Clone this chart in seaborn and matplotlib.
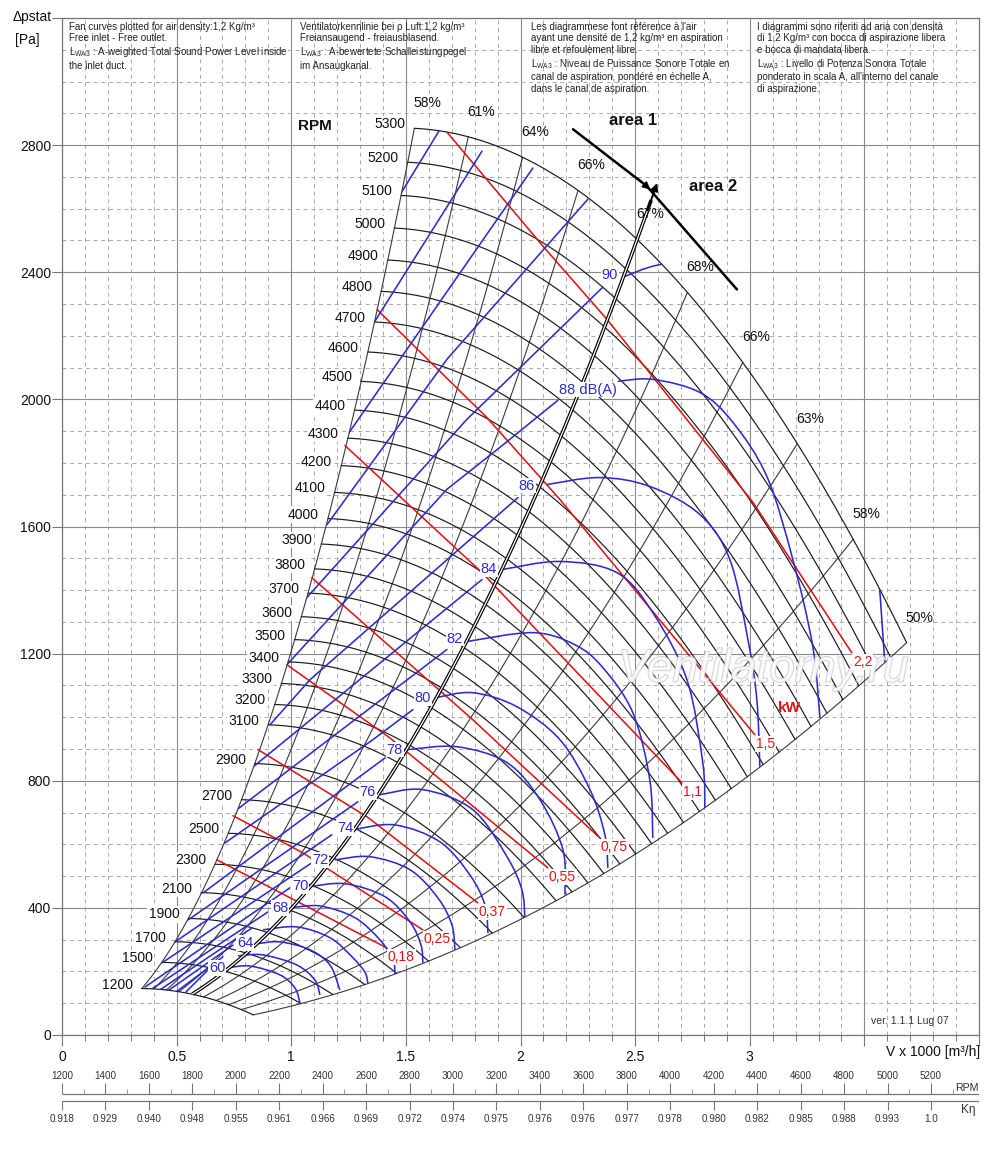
import numpy as np
import pandas as pd
import matplotlib
matplotlib.use("Agg")
import matplotlib.pyplot as plt
import seaborn as sns
from matplotlib.path import Path
from matplotlib.patches import PathPatch, Polygon
from matplotlib import font_manager
import matplotlib.patheffects as pe

# ------------------------------------------------------------------ data
RPM_CURVES = [1200, 1500, 1700, 1900, 2100, 2300, 2500, 2700, 2900,
              3100, 3200, 3300, 3400, 3500, 3600, 3700, 3800, 3900, 4000,
              4100, 4200, 4300, 4400, 4500, 4600, 4700, 4800, 4900, 5000,
              5100, 5200, 5300]
RPM_MAX = 5300
# 5300 rpm curve, read where the efficiency lines meet it
TOP_V = [1.539, 1.771, 2.006, 2.250, 2.512, 2.730, 2.970, 3.205, 3.450, 3.685]
TOP_P = [2860, 2822, 2753, 2655, 2510, 2340, 2117, 1858, 1559, 1235]
EFF_LABELS = ["58%", "61%", "64%", "66%", "67%", "68%", "66%", "63%", "58%", "50%"]
AREA_INDEX = 4          # the 67 % line is the area 1 / area 2 border
AREA_V_TOP = 2.60

KW_LABELS = ["0,18", "0,25", "0,37", "0,55", "0,75", "1,1", "1,5", "2,2"]
KW_V = [[0.676, 1.417],
        [0.746, 1.051, 1.574],
        [0.855, 1.330, 1.814],
        [0.981, 1.430, 2.119],
        [1.090, 1.792, 2.346],
        [1.234, 1.832, 2.704],
        [1.374, 1.853, 2.172, 3.022],
        [1.679, 2.098, 2.377, 3.014, 3.445]]
KW_P = [[551, 274],
        [690, 573, 331],
        [898, 687, 416],
        [1165, 935, 526],
        [1439, 992, 620],
        [1855, 1455, 794],
        [2283, 1943, 1685, 945],
        [2841, 2482, 2252, 1676, 1203]]

# sound level lines, rising part (area 1)
RISE_LEVELS = [98, 96, 94, 92, 90, 88, 86, 84, 82, 80, 78, 76, 74, 72, 70, 68, 66, 64, 62, 60]
RISE_V = [[1.474, 1.644], [1.365, 1.832], [1.247, 2.054], [1.156, 1.679, 2.294],
          [1.060, 1.766, 2.359], [0.981, 1.679, 1.910, 2.163], [0.907, 1.082, 1.989],
          [0.829, 1.832], [0.763, 1.679], [0.698, 1.356, 1.531], [0.615, 1.409],
          [0.550, 1.291], [0.493, 1.177], [0.436, 1.090], [0.362, 0.994],
          [0.392, 0.898], [0.427, 0.829], [0.462, 0.746], [0.497, 0.702], [0.536, 0.637]]
RISE_P = [[2643, 2844], [2246, 2781], [1890, 2728], [1606, 2126, 2630],
          [1370, 1937, 2353], [1165, 1717, 1849, 1997], [976, 1118, 1691],
          [841, 1433], [709, 1213], [598, 929, 1024], [447, 872],
          [362, 734], [293, 630], [227, 542], [151, 463],
          [145, 387], [142, 337], [139, 283], [135, 246], [132, 205]]

# sound level lines, dome part (area 2)
DOME_LEVELS = [60, 62, 64, 66, 68, 70, 72, 74, 76, 78, 80, 82, 84, 86, 88, 90]
DOME_V = [[0.720, 0.820, 0.951, 1.016, 1.038],
          [0.768, 0.877, 1.025, 1.103, 1.125],
          [0.850, 0.951, 1.082, 1.169, 1.212],
          [0.877, 1.025, 1.169, 1.265, 1.321, 1.334],
          [0.994, 1.125, 1.278, 1.387, 1.444, 1.452],
          [1.073, 1.234, 1.409, 1.518, 1.566, 1.574],
          [1.191, 1.343, 1.518, 1.640, 1.701, 1.714],
          [1.269, 1.452, 1.648, 1.779, 1.845, 1.858],
          [1.387, 1.574, 1.792, 1.941, 2.006, 2.019],
          [1.509, 1.723, 1.941, 2.085, 2.185, 2.194],
          [1.627, 1.792, 1.984, 2.172, 2.303, 2.368, 2.381],
          [1.766, 2.054, 2.237, 2.359, 2.490, 2.564, 2.577],
          [1.923, 2.172, 2.420, 2.577, 2.726, 2.795, 2.804],
          [2.115, 2.346, 2.564, 2.782, 2.913, 2.992, 3.031, 3.044],
          [2.425, 2.577, 2.782, 2.926, 3.075, 3.188, 3.275, 3.306],
          [2.455, 2.595, 2.782, 3.044, 3.262, 3.437, 3.546, 3.589]]
DOME_P = [[211, 217, 189, 148, 101],
          [249, 252, 220, 173, 126],
          [287, 293, 268, 220, 142],
          [331, 340, 306, 246, 198, 164],
          [400, 406, 369, 299, 236, 189],
          [466, 476, 435, 356, 283, 227],
          [551, 561, 520, 431, 346, 268],
          [646, 661, 608, 504, 409, 321],
          [756, 772, 709, 561, 457, 369],
          [898, 907, 857, 740, 583, 441],
          [1061, 1077, 1033, 929, 772, 630, 526],
          [1238, 1266, 1228, 1156, 1014, 803, 620],
          [1465, 1490, 1455, 1329, 1118, 857, 715],
          [1732, 1754, 1726, 1638, 1496, 1244, 1055, 844],
          [2057, 2063, 2022, 1928, 1757, 1496, 1222, 998],
          [2387, 2422, 2435, 2362, 2157, 1843, 1528, 1172]]

DB_LABELS = ["60", "64", "68", "70", "72", "74", "76", "78", "80", "82", "84", "86", "88 dB(A)", "90"]
DB_LABEL_V = [0.676, 0.798, 0.951, 1.038, 1.125, 1.234, 1.334, 1.452, 1.574, 1.714, 1.862, 2.028, 2.294, 2.390]
DB_LABEL_P = [211, 290, 400, 469, 551, 652, 765, 898, 1061, 1247, 1465, 1729, 2031, 2390]

AREA_SEP_V = [2.229, 2.551, 2.944]
AREA_SEP_P = [2850, 2671, 2346]

SCALE_RPM = [1200, 1400, 1600, 1800, 2000, 2200, 2400, 2600, 2800, 3000, 3200,
             3400, 3600, 3800, 4000, 4200, 4400, 4600, 4800, 5000, 5200]
SCALE_RPM_MINOR = [1300, 1500, 1700, 1900, 2100, 2300, 2500, 2700, 2900, 3100, 3300,
                   3500, 3700, 3900, 4100, 4300, 4500, 4700, 4900, 5100, 5300]
K_ETA = ["0.918", "0.929", "0.940", "0.948", "0.955", "0.961", "0.966", "0.969",
         "0.972", "0.974", "0.975", "0.976", "0.976", "0.977", "0.978", "0.980",
         "0.982", "0.985", "0.988", "0.993", "1.0"]
SCALE_RPM_END = 5421

X_TICKS = [0, 0.5, 1.0, 1.5, 2.0, 2.5, 3.0, 3.5, 4.0]
X_TICK_LABELS = ["0", "0.5", "1", "1.5", "2", "2.5", "3", "", ""]
Y_TICKS = [0, 400, 800, 1200, 1600, 2000, 2400, 2800, 3200]
Y_TICK_LABELS = ["0", "400", "800", "1200", "1600", "2000", "2400", "2800", ""]

HEADERS = [
    "Fan curves plotted for air density:1,2 Kg/m³\nFree inlet - Free outlet.\n"
    "L$_{WA3}$ : A-weighted Total Sound Power Level inside\nthe inlet duct.",
    "Ventilatorkennlinie bei ρ Luft:1,2 kg/m³\nFreiansaugend - freiausblasend.\n"
    "L$_{WA3}$ : A-bewertete Schalleistungpegel\nim Ansaugkanal.",
    "Les diagrammese font référence à l'air\nayant une densité de 1,2 kg/m³ en aspiration\n"
    "libre et refoulement libre.\nL$_{WA3}$ : Niveau de Puissance Sonore Totale en\n"
    "canal de aspiration, pondéré en échelle A,\ndans le canal de aspiration.",
    "I diagrammi sono riferiti ad aria con densità\ndi 1,2 Kg/m³ con bocca di aspirazione libera\n"
    "e bocca di mandata libera.\nL$_{WA3}$ : Livello di Potenza Sonora Totale\n"
    "ponderato in scala A, all'interno del canale\ndi aspirazione.",
]
HEADER_V = [0.03, 1.04, 2.045, 3.03]

# ------------------------------------------------------------------ style
sns.set_theme(style="white")
names = {f.name for f in font_manager.fontManager.ttflist}
plt.rcParams["font.family"] = ["Liberation Sans", "DejaVu Sans"]
plt.rcParams["mathtext.default"] = "regular"
if "Liberation Sans Narrow" in names:
    NARROW = ["Liberation Sans Narrow", "DejaVu Sans"]
    HFS, SFS = 7.8, 7.8
else:
    NARROW = ["Liberation Sans", "DejaVu Sans"]
    HFS, SFS = 7.0, 7.1

BLUE = "#2b2bd0"
RED = "#e01414"
GRID_D = "#8a8a8a"
GRID_L = "#a8a8a8"
INK = "#111111"

fig = plt.figure(figsize=(10, 11.6), dpi=100)
ax = fig.add_axes([0.062, 1 - 1035 / 1160, 0.917, (1035 - 18) / 1160])

# ------------------------------------------------------------------ fan model
fit = np.polyfit(TOP_V, TOP_P, 2)
k_eff = np.array(TOP_P, float) / np.array(TOP_V, float) ** 2


def cross(k):
    r = np.roots([fit[0] - k, fit[1], fit[2]])
    r = r[np.isreal(r)].real
    return r[r > 0].max()


V_end = np.array([cross(k) for k in k_eff])
P_end = k_eff * V_end ** 2
smin = RPM_CURVES[0] / RPM_MAX
s_grid = np.linspace(smin, 1.0, 60)
vb = np.linspace(V_end[0], V_end[-1], 120)

rows = []
for n in RPM_CURVES:
    s = n / RPM_MAX
    for v in vb:
        rows.append((n, v * s, np.polyval(fit, v) * s * s))
df_fan = pd.DataFrame(rows, columns=["rpm", "V", "p"])

rows = []
for i, k in enumerate(k_eff):
    if i == AREA_INDEX:
        continue
    for s in s_grid:
        v = V_end[i] * s
        rows.append((i, v, k * v * v))
df_eff = pd.DataFrame(rows, columns=["line", "V", "p"])

env_V = np.concatenate([V_end[0] * s_grid, vb, V_end[-1] * s_grid[::-1], vb[::-1] * smin])
env_P = np.concatenate([k_eff[0] * (V_end[0] * s_grid) ** 2, np.polyval(fit, vb),
                        k_eff[-1] * (V_end[-1] * s_grid[::-1]) ** 2,
                        np.polyval(fit, vb[::-1]) * smin ** 2])
env = Polygon(np.column_stack([env_V, env_P]), closed=True,
              transform=ax.transData, fc="none", ec="none")

# ------------------------------------------------------------------ draw
sns.lineplot(data=df_eff, x="V", y="p", units="line", estimator=None, sort=False,
             color="#3a3a3a", linewidth=0.8, ax=ax, legend=False, zorder=2)
sns.lineplot(data=df_fan, x="V", y="p", units="rpm", estimator=None, sort=False,
             color="#1a1a1a", linewidth=0.85, ax=ax, legend=False, zorder=2)

rows = []
for lab, vs, ps in zip(KW_LABELS, KW_V, KW_P):
    for v, p in zip(vs, ps):
        rows.append((lab, v, p))
df_kw = pd.DataFrame(rows, columns=["kw", "V", "p"])
sns.lineplot(data=df_kw, x="V", y="p", units="kw", estimator=None, sort=False,
             color=RED, linewidth=1.15, ax=ax, legend=False, zorder=3)

rows = []
for lev, vs, ps in zip(RISE_LEVELS, RISE_V, RISE_P):
    for v, p in zip(vs, ps):
        rows.append((lev, v, p))
df_rise = pd.DataFrame(rows, columns=["level", "V", "p"])
n0 = len(ax.lines)
sns.lineplot(data=df_rise, x="V", y="p", units="level", estimator=None, sort=False,
             color=BLUE, linewidth=1.15, ax=ax, legend=False, zorder=4)
for ln in ax.lines[n0:]:
    ln.set_clip_path(env)


def smooth_path(xs, ys):
    P = np.column_stack([xs, ys]).astype(float)
    n = len(P)
    verts = [P[0]]
    codes = [Path.MOVETO]
    for i in range(n - 1):
        p0 = P[max(i - 1, 0)]
        p1 = P[i]
        p2 = P[i + 1]
        p3 = P[min(i + 2, n - 1)]
        verts += [p1 + (p2 - p0) / 6.0, p2 - (p3 - p1) / 6.0, p2]
        codes += [Path.CURVE4] * 3
    return Path(verts, codes)


for vs, ps in zip(DOME_V, DOME_P):
    patch = PathPatch(smooth_path(vs, ps), fill=False, ec=BLUE, lw=1.15, zorder=4)
    ax.add_patch(patch)
    patch.set_clip_path(env)

# area border (67 % line) as double line with arrow
va = np.linspace(V_end[AREA_INDEX] * smin, AREA_V_TOP - 0.03, 80)
pa = k_eff[AREA_INDEX] * va ** 2
ax.plot(va, pa, color="black", lw=2.6, zorder=5, solid_capstyle="butt")
ax.plot(va, pa, color="white", lw=0.9, zorder=5.1, solid_capstyle="butt")
ax.annotate("", xy=(AREA_V_TOP, k_eff[AREA_INDEX] * AREA_V_TOP ** 2),
            xytext=(va[-1] - 0.02, k_eff[AREA_INDEX] * (va[-1] - 0.02) ** 2),
            arrowprops=dict(arrowstyle="-|>", color="black", lw=1.4, mutation_scale=11),
            zorder=5.2)
ax.plot(AREA_SEP_V, AREA_SEP_P, color="black", lw=1.8, zorder=5)
ax.annotate("", xy=(2.575, 2654), xytext=(2.50, 2703),
            arrowprops=dict(arrowstyle="-|>", color="black", lw=1.2, mutation_scale=11),
            zorder=5.2)

# ------------------------------------------------------------------ labels
wbox = dict(boxstyle="square,pad=0.08", fc="white", ec="none")
for n in RPM_CURVES:
    s = n / RPM_MAX
    ax.annotate(str(n), (V_end[0] * s, P_end[0] * s * s), xytext=(-9, 4),
                textcoords="offset pixels", ha="right", va="center",
                fontsize=10, color=INK, zorder=7, bbox=wbox)
for i, lab in enumerate(EFF_LABELS):
    ax.annotate(lab, (V_end[i], P_end[i]), xytext=(13, 25), textcoords="offset pixels",
                ha="center", va="center", fontsize=10, color=INK, zorder=7)
for lab, vs, ps in zip(KW_LABELS, KW_V, KW_P):
    ax.annotate(lab, (vs[-1], ps[-1]), xytext=(1, -2), textcoords="offset pixels",
                ha="left", va="top", fontsize=10, color=RED, zorder=7, bbox=wbox)
for lab, v, p in zip(DB_LABELS, DB_LABEL_V, DB_LABEL_P):
    ax.text(v, p, lab, ha="center", va="center", fontsize=10.5, color=BLUE,
            zorder=7, bbox=dict(boxstyle="square,pad=0.05", fc="white", ec="none"))

ax.text(3.175, 1030, "kW", color=RED, fontsize=11, weight="bold",
        ha="center", va="center", zorder=7)
ax.text(1.103, 2860, "RPM", fontsize=11, weight="bold", ha="center", va="center",
        color=INK, zorder=7)
ax.text(2.49, 2879, "area 1", fontsize=12, weight="bold", ha="center", va="center",
        color=INK, zorder=7)
ax.text(2.84, 2671, "area 2", fontsize=12, weight="bold", ha="center", va="center",
        color=INK, zorder=7)
ax.text(3.70, 44, "ver. 1.1.1 Lug 07", fontsize=7.5, ha="center", va="center",
        color="#333333", family=NARROW)
ax.text(3.06, 1150, "Ventilatorny.ru", fontsize=33, style="italic", color="white",
        alpha=0.75, ha="center", va="center", zorder=6.5,
        path_effects=[pe.withStroke(linewidth=1.3, foreground="#c4c4c4")])

for txt, v in zip(HEADERS, HEADER_V):
    ax.text(v, 3188, txt, ha="left", va="top", fontsize=HFS, linespacing=1.2,
            family=NARROW, color="#222222", zorder=6)

# ------------------------------------------------------------------ axes
ax.set_xlim(0, 4.0)
ax.set_ylim(0, 3200)
ax.set_xlabel("")
ax.set_ylabel("")
ax.set_xticks(X_TICKS)
ax.set_xticklabels(X_TICK_LABELS)
ax.set_xticks(np.arange(0, 4.001, 0.1), minor=True)
ax.set_yticks(Y_TICKS)
ax.set_yticklabels(Y_TICK_LABELS)
ax.set_yticks(np.arange(0, 3201, 100), minor=True)
ax.grid(which="major", color=GRID_D, lw=0.8, ls="-")
ax.grid(which="minor", color=GRID_L, lw=0.7, ls=(0, (4, 4)))
ax.set_axisbelow(True)
ax.tick_params(axis="x", which="major", length=8, width=0.8, color="#777777",
               direction="out", labelsize=10, pad=3, bottom=True, labelcolor=INK)
ax.tick_params(axis="x", which="minor", length=4, width=0.7, color="#777777",
               direction="out", bottom=True)
ax.tick_params(axis="y", which="major", length=7, width=0.8, color="#777777",
               direction="out", labelsize=10, pad=1, left=True, labelcolor=INK)
ax.tick_params(axis="y", which="minor", length=0)
for sp in ax.spines.values():
    sp.set_color("#777777")
    sp.set_linewidth(0.9)

fig.text(0.013, 1 - 17 / 1160, "Δpstat", ha="left", va="center", fontsize=10, color=INK)
fig.text(0.015, 1 - 40 / 1160, "[Pa]", ha="left", va="center", fontsize=10, color=INK)
fig.text(0.980, 1 - 1052 / 1160, "V x 1000 [m³/h]", ha="right", va="center",
         fontsize=10, color=INK)

# ------------------------------------------------------------------ rpm / k-eta scale
axb = fig.add_axes([0.062, 1 - 1126 / 1160, 0.917, 60 / 1160])
axb.set_xlim(1200, SCALE_RPM_END)
axb.set_ylim(0, 60)
axb.axis("off")
axb.hlines(32, 1200, SCALE_RPM_END, color="#777777", lw=0.9)
axb.hlines(25, 1200, SCALE_RPM_END, color="#777777", lw=0.9)
axb.vlines(SCALE_RPM, 32, 43, color="#777777", lw=0.8)
axb.vlines(SCALE_RPM_MINOR, 32, 37, color="#999999", lw=0.7)
axb.vlines(SCALE_RPM, 16, 25, color="#777777", lw=0.8)
for r, k in zip(SCALE_RPM, K_ETA):
    axb.text(r, 50, str(r), ha="center", va="center", fontsize=SFS, family=NARROW, color="#333333")
    axb.text(r, 7, k, ha="center", va="center", fontsize=SFS, family=NARROW, color="#333333")
axb.text(SCALE_RPM_END, 38, "RPM", ha="right", va="center", fontsize=SFS + 0.6,
         family=NARROW, color="#333333")
axb.text(SCALE_RPM_END - 15, 16, "Kη", ha="right", va="center", fontsize=SFS + 1.5,
         family=NARROW, color="#333333")

fig.savefig("out.png", dpi=100)
